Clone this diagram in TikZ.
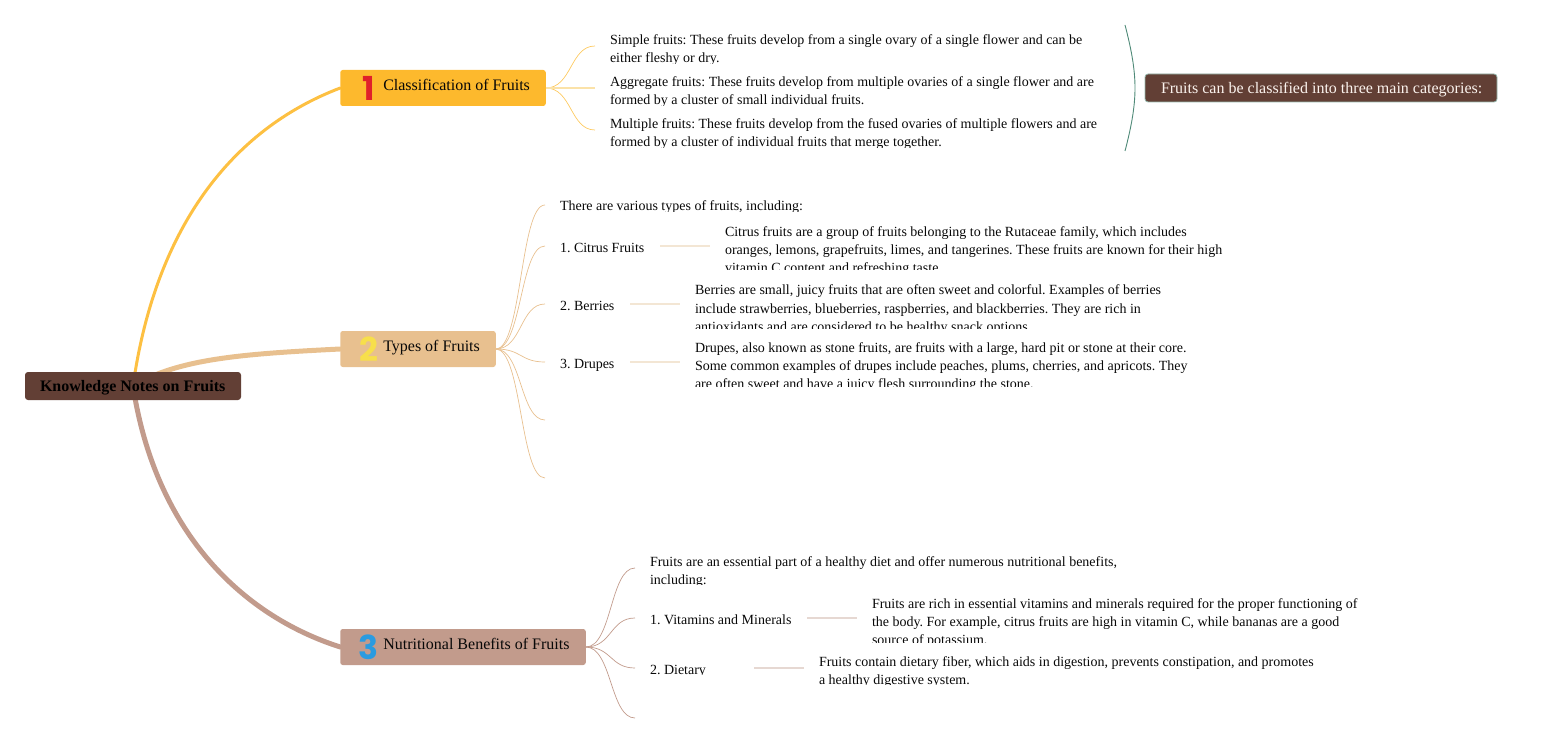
\documentclass[tikz,border=0pt]{standalone}
\usepackage{fontspec}
\setmainfont{Liberation Serif}
\newfontfamily\iconfont{Poppins}
\frenchspacing
\pgfdeclarelayer{background}
\pgfsetlayers{background,main}
\definecolor{rootbrown}{HTML}{623F35}
\definecolor{yellowA}{HTML}{FDB92D}
\definecolor{tanA}{HTML}{E8C08F}
\definecolor{roseA}{HTML}{C29B8C}
\definecolor{yellowL}{HTML}{FBE2A8}
\definecolor{tanL}{HTML}{F3E6D4}
\definecolor{roseL}{HTML}{E6D8D2}
\definecolor{bracketc}{HTML}{4F8A78}
\definecolor{cream}{HTML}{FBF3EE}
\definecolor{inkc}{HTML}{080808}
\definecolor{iconred}{HTML}{E0202A}
\definecolor{iconyellow}{HTML}{F7DF4B}
\definecolor{iconblue}{HTML}{2A9BE0}
\newcommand{\txline}[1]{\hbox{#1}}
\newcommand{\cliptext}[5]{%
  \begin{scope}
    \clip (#2-2,#3-16) rectangle (#2+720,#4);
    \node[leaftext] (#1) at (#2,#3) {\vtop{\baselineskip=18pt\lineskiplimit=-100pt #5}};
  \end{scope}}
\newcommand{\boxlabel}[3]{\makebox[#1pt][l]{\hspace{#2pt}\raisebox{-2.5pt}[0pt][0pt]{#3}}}
\newcommand{\boxlabelB}[3]{\makebox[#1pt][l]{\hspace{#2pt}\raisebox{-5.5pt}[0pt][0pt]{#3}}}
\tikzset{
  leaftext/.style={anchor=base west,inner sep=0pt,outer sep=0pt,text=inkc,font=\fontsize{14}{18}\selectfont},
  topicbox/.style={rounded corners=2.5pt,inner sep=0pt,outer sep=0pt,minimum height=36pt,text=inkc,font=\fontsize{16}{18}\selectfont},
  rootbox/.style={rounded corners=3pt,inner sep=0pt,outer sep=0pt,minimum height=28pt,fill=rootbrown},
  numicon/.style={inner sep=0pt,outer sep=0pt,font=\iconfont\bfseries\fontsize{33}{33}\selectfont},
  mainlink/.style={line cap=round},
  branch/.style={line width=0.7pt},
  sublink/.style={line width=1.8pt}
}
\begin{document}
\begin{tikzpicture}[x=1pt,y=-1pt]
\useasboundingbox (0,0) rectangle (1542,743);
% main nodes
\node[rootbox,minimum width=216pt,font=\bfseries\fontsize{16}{18}\selectfont,text=black] (root) at (133,386) {\boxlabelB{216}{15}{Knowledge Notes on Fruits}};
\node[topicbox,fill=yellowA,minimum width=205.5pt] (c1) at (443,88) {\boxlabel{205.5}{43}{Classification of Fruits}};
\node[topicbox,fill=tanA,minimum width=155.5pt] (c2) at (418,349) {\boxlabel{155.5}{43}{Types of Fruits}};
\node[topicbox,fill=roseA,minimum width=245.5pt] (c3) at (463,647) {\boxlabel{245.5}{43}{Nutritional Benefits of Fruits}};
\node[numicon,text=iconred] (n1) at (369,88) {1};
\node[numicon,text=iconyellow] (n2) at (368.5,349.5) {2};
\node[numicon,text=iconblue] (n3) at (368.5,647.5) {3};
\node[rootbox,draw=bracketc!60!white,line width=0.8pt,minimum width=352pt,text=cream,font=\fontsize{16}{18}\selectfont] (summary) at (1321,88) {\boxlabelB{352}{16}{Fruits can be classified into three main categories:}};
% leaf texts
\cliptext{s1}{610}{45}{63.4}{\txline{Simple fruits: These fruits develop from a single ovary of a single flower and can be}\txline{either fleshy or dry.}}
\cliptext{s2}{610}{87}{105.4}{\txline{Aggregate fruits: These fruits develop from multiple ovaries of a single flower and are}\txline{formed by a cluster of small individual fruits.}}
\cliptext{s3}{610}{129}{147.4}{\txline{Multiple fruits: These fruits develop from the fused ovaries of multiple flowers and are}\txline{formed by a cluster of individual fruits that merge together.}}
\cliptext{t0}{560}{211}{211.6}{\txline{There are various types of fruits, including:}}
\cliptext{t1}{560}{253}{270}{\txline{1. Citrus Fruits}}
\cliptext{t1b}{725}{237}{270}{\txline{Citrus fruits are a group of fruits belonging to the Rutaceae family, which includes}\txline{oranges, lemons, grapefruits, limes, and tangerines. These fruits are known for their high}\txline{vitamin C content and refreshing taste.}}
\cliptext{t2}{560}{311}{328}{\txline{2. Berries}}
\cliptext{t2b}{695}{295}{328}{\txline{Berries are small, juicy fruits that are often sweet and colorful. Examples of berries}\txline{include strawberries, blueberries, raspberries, and blackberries. They are rich in}\txline{antioxidants and are considered to be healthy snack options.}}
\cliptext{t3}{560}{368.5}{386}{\txline{3. Drupes}}
\cliptext{t3b}{695}{352.6}{386}{\txline{Drupes, also known as stone fruits, are fruits with a large, hard pit or stone at their core.}\txline{Some common examples of drupes include peaches, plums, cherries, and apricots. They}\txline{are often sweet and have a juicy flesh surrounding the stone.}}
\cliptext{u0}{650}{566}{584.6}{\txline{Fruits are an essential part of a healthy diet and offer numerous nutritional benefits,}\txline{including:}}
\cliptext{u1}{650}{624}{642}{\txline{1. Vitamins and Minerals}}
\cliptext{u1b}{872}{608}{642}{\txline{Fruits are rich in essential vitamins and minerals required for the proper functioning of}\txline{the body. For example, citrus fruits are high in vitamin C, while bananas are a good}\txline{source of potassium.}}
\cliptext{u2}{650}{674}{674.6}{\txline{2. Dietary}}
\cliptext{u2b}{819}{666}{684.6}{\txline{Fruits contain dietary fiber, which aids in digestion, prevents constipation, and promotes}\txline{a healthy digestive system.}}
% free ends
\coordinate (e1) at (595,46);\coordinate (e2) at (595,88);\coordinate (e3) at (595,130);
\coordinate (f0) at (545,205);\coordinate (f1) at (545,246);\coordinate (f2) at (545,304);
\coordinate (f3) at (545,362);\coordinate (f4) at (545,420);\coordinate (f5) at (545,478);
\coordinate (g0) at (635,568);\coordinate (g1) at (635,618);\coordinate (g2) at (635,668);\coordinate (g3) at (635,718);
\coordinate (h1a) at (660,246);\coordinate (h1b) at (710,246);
\coordinate (h2a) at (630,304);\coordinate (h2b) at (680,304);
\coordinate (h3a) at (630,362);\coordinate (h3b) at (680,362);
\coordinate (k1a) at (807,618);\coordinate (k1b) at (857,618);
\coordinate (k2a) at (754,668);\coordinate (k2b) at (804,668);
\coordinate (bt) at (1125,25);\coordinate (bm) at (1135,88);\coordinate (bb) at (1125,151);
\begin{pgfonlayer}{background}
  \draw[mainlink,yellowA!90!white,line width=3pt] (root.center) .. controls (155,230) and (230,130) .. (c1.west);
  \draw[mainlink,tanA,line width=5pt] (root.center) .. controls (178,359) and (240,354) .. (c2.west);
  \draw[mainlink,roseA,line width=5pt] (root.center) .. controls (155,530) and (240,615) .. (c3.west);
  \draw[yellowA!75!white,branch] (c1.east) .. controls (572,88) and (570,46) .. (e1);
  \draw[yellowA!75!white,branch] (c1.east) .. controls (572,88) and (570,130) .. (e3);
  \draw[yellowL,line width=1.2pt] (c1.east) -- (e2);
  \foreach \e/\v in {f0/205,f1/246,f2/304,f3/362,f4/420,f5/478}
    \draw[tanA,branch] (c2.east) .. controls (522,349) and (520,\v) .. (\e);
  \foreach \e/\v in {g0/568,g1/618,g2/668,g3/718}
    \draw[roseA,branch] (c3.east) .. controls (612,647) and (610,\v) .. (\e);
  \draw[tanL,sublink] (h1a) -- (h1b);
  \draw[tanL,sublink] (h2a) -- (h2b);
  \draw[tanL,sublink] (h3a) -- (h3b);
  \draw[roseL,sublink] (k1a) -- (k1b);
  \draw[roseL,sublink] (k2a) -- (k2b);
  \draw[bracketc,line width=0.9pt] (bt) .. controls (1131,48) and (1135,68) .. (bm) .. controls (1135,108) and (1131,128) .. (bb);
\end{pgfonlayer}
\end{tikzpicture}
\end{document}
